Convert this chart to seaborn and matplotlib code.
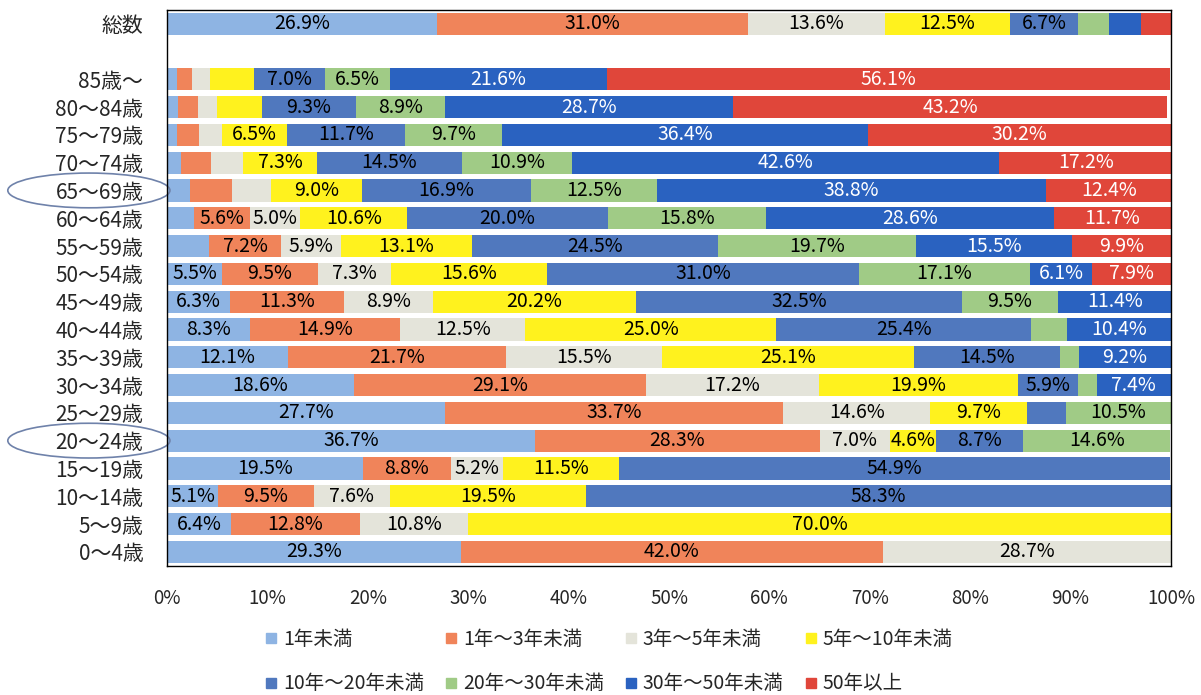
import matplotlib
matplotlib.use("Agg")
import matplotlib.pyplot as plt
import matplotlib.transforms as mtransforms
from matplotlib.lines import Line2D
from matplotlib.patches import Ellipse
import numpy as np
import pandas as pd
import seaborn as sns

# rows as shown, top to bottom (a blank slot sits under 総数)
rows = ['総数', '85歳～', '80～84歳', '75～79歳', '70～74歳', '65～69歳', '60～64歳',
        '55～59歳', '50～54歳', '45～49歳', '40～44歳', '35～39歳', '30～34歳',
        '25～29歳', '20～24歳', '15～19歳', '10～14歳', '5～9歳', '0～4歳']

series_names = ['1年未満', '1年～3年未満', '3年～5年未満', '5年～10年未満',
                '10年～20年未満', '20年～30年未満', '30年～50年未満', '50年以上']

v_lt1 = [26.9, 1.0, 1.1, 1.0, 1.4, 2.3, 2.7, 4.2, 5.5, 6.3, 8.3, 12.1, 18.6, 27.7, 36.7, 19.5, 5.1, 6.4, 29.3]
v_1_3 = [31.0, 1.5, 2.0, 2.2, 3.0, 4.2, 5.6, 7.2, 9.5, 11.3, 14.9, 21.7, 29.1, 33.7, 28.3, 8.8, 9.5, 12.8, 42.0]
v_3_5 = [13.6, 1.8, 1.9, 2.3, 3.2, 3.9, 5.0, 5.9, 7.3, 8.9, 12.5, 15.5, 17.2, 14.6, 7.0, 5.2, 7.6, 10.8, 28.7]
v_5_10 = [12.5, 4.4, 4.5, 6.5, 7.3, 9.0, 10.6, 13.1, 15.6, 20.2, 25.0, 25.1, 19.9, 9.7, 4.6, 11.5, 19.5, 70.0, 0]
v_10_20 = [6.7, 7.0, 9.3, 11.7, 14.5, 16.9, 20.0, 24.5, 31.0, 32.5, 25.4, 14.5, 5.9, 3.8, 8.7, 54.9, 58.3, 0, 0]
v_20_30 = [3.1, 6.5, 8.9, 9.7, 10.9, 12.5, 15.8, 19.7, 17.1, 9.5, 3.5, 1.9, 1.9, 10.5, 14.6, 0, 0, 0, 0]
v_30_50 = [3.2, 21.6, 28.7, 36.4, 42.6, 38.8, 28.6, 15.5, 6.1, 11.4, 10.4, 9.2, 7.4, 0, 0, 0, 0, 0, 0]
v_50 = [3.0, 56.1, 43.2, 30.2, 17.2, 12.4, 11.7, 9.9, 7.9, 0, 0, 0, 0, 0, 0, 0, 0, 0, 0]

colors = ['#8EB4E3', '#F0845A', '#E4E4DA', '#FFF21E',
          '#5078BE', '#A0CB86', '#2A62C0', '#E0463A']
text_colors = ['black'] * 6 + ['white', 'white']

sns.set_theme(style='white')
plt.rcParams['font.family'] = ['Noto Sans CJK JP', 'DejaVu Sans']

df = pd.DataFrame(dict(zip(series_names,
                           [v_lt1, v_1_3, v_3_5, v_5_10, v_10_20, v_20_30, v_30_50, v_50])),
                  index=rows)
cum = df.cumsum(axis=1)
order = [rows[0], ' '] + rows[1:]

fig = plt.figure(figsize=(12.01, 6.95), dpi=100)
ax = fig.add_axes([0.139, 0.186, 0.836, 0.800])

# overlay cumulative bars, widest first
for name, col in reversed(list(zip(series_names, colors))):
    sns.barplot(x=cum[name].values, y=rows, order=order, color=col, orient='h',
                width=0.8, saturation=1, linewidth=0, ax=ax)

pos = {r: order.index(r) for r in rows}
for name, tc in zip(series_names, text_colors):
    for r in rows:
        v = df.loc[r, name]
        if v >= 4.6:
            ax.text(cum.loc[r, name] - v / 2, pos[r], f'{v:.1f}%', ha='center', va='center',
                    fontsize=14, color=tc)

ax.set_xlim(0, 100)
ax.set_ylim(len(order) - 0.5, -0.5)
ax.set_xticks(np.arange(0, 101, 10))
ax.set_xticklabels([f'{t}%' for t in range(0, 101, 10)], fontsize=13.5)
ax.tick_params(axis='x', length=0, pad=16)
ax.tick_params(axis='y', length=0, pad=17, labelsize=15)
ax.set_xlabel('')
ax.set_ylabel('')
for s in ax.spines.values():
    s.set_visible(True)
    s.set_color('black')
    s.set_linewidth(1.0)

# hand-drawn circles around two labels
trans = mtransforms.blended_transform_factory(fig.transFigure, ax.transData)
for r in ['65～69歳', '20～24歳']:
    ax.add_patch(Ellipse((0.074, pos[r]), 0.135, 1.25, transform=trans, fill=False,
                         edgecolor='#6F82AA', lw=1.2, clip_on=False))

# legend filled row by row (matplotlib fills by column)
handles = [Line2D([], [], marker='s', ls='', markersize=7, color=c) for c in colors]
idx = [0, 4, 1, 5, 2, 6, 3, 7]
fig.legend([handles[i] for i in idx], [series_names[i] for i in idx], ncol=4,
           loc='center', bbox_to_anchor=(0.507, 0.048),
           frameon=False, fontsize=14, handlelength=0.6, handletextpad=0.3,
           columnspacing=1.1, labelspacing=1.2, borderpad=0)

fig.savefig('out.png', dpi=100)
